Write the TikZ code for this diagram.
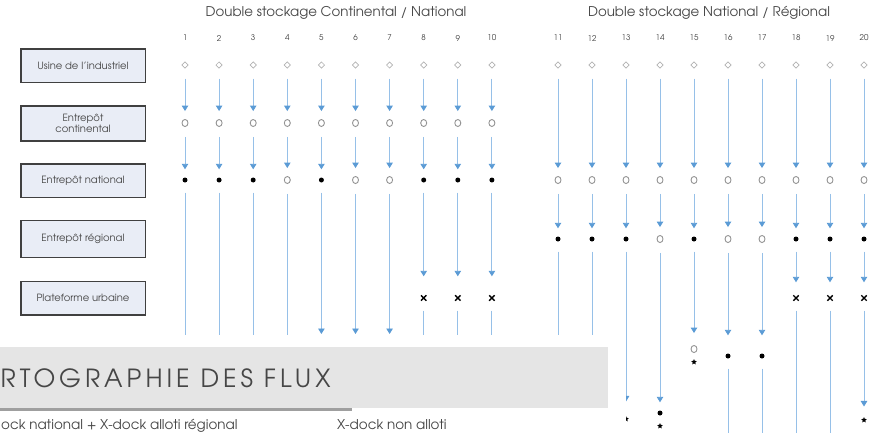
\documentclass[tikz,border=0pt]{standalone}
\usepackage{fontspec}
\setmainfont{TeX Gyre Adventor}
\usetikzlibrary{arrows.meta,shapes.geometric,shapes.misc}
\definecolor{flowblue}{RGB}{91,155,213}
\definecolor{linkblue}{RGB}{150,192,232}
\definecolor{boxfill}{RGB}{233,237,246}
\definecolor{boxline}{RGB}{64,64,64}
\definecolor{txtgray}{RGB}{70,70,70}
\definecolor{bannergray}{RGB}{229,229,229}

\begin{document}
\begin{tikzpicture}[x=1pt,y=-1pt,line width=0.4pt,
  lvl/.style={draw=boxline,line width=1.5pt,fill=boxfill,align=center,
              minimum width=124.5pt,minimum height=33.5pt,inner sep=1pt,
              text=txtgray,font=\fontsize{10}{11.5}\selectfont},
  num/.style={text=txtgray,font=\fontsize{8}{9}\selectfont},
  head/.style={text=txtgray,font=\fontsize{13.4}{15}\selectfont},
  usine/.style={diamond,draw=gray!60,line width=0.7pt,minimum size=6.5pt,inner sep=0pt},
  stockopen/.style={ellipse,draw=gray!85,line width=0.9pt,minimum width=6pt,
                    minimum height=7pt,inner sep=0pt},
  stockfull/.style={circle,fill=black,minimum size=5pt,inner sep=0pt},
  xdock/.style={cross out,draw=black,line width=1.4pt,minimum size=4pt,inner sep=0pt},
  client/.style={star,star points=5,star point ratio=2.2,fill=black,
                 minimum size=6pt,inner sep=0pt},
  link/.style={draw=linkblue,line width=0.9pt,shorten <=10pt},
  flow/.style={link,-{Triangle[width=6.5pt,length=5.5pt,color=flowblue]},shorten >=8pt},
  bandeau/.style={text=txtgray,inner sep=0pt,
                  font=\fontsize{25}{28}\selectfont\addfontfeature{LetterSpace=16}},
  legende/.style={text=txtgray,inner sep=0pt,font=\fontsize{13.5}{15}\selectfont}]
  \useasboundingbox (0,0) rectangle (875,432);
  \clip (0,0) rectangle (875,432);

  % niveaux
  \node[lvl] (usine) at (83,65.5) {Usine de l’industriel};
  \node[lvl,minimum height=35pt] (cont) at (83,123.5) {Entrepôt\\continental};
  \node[lvl] (nat) at (83,180.5) {Entrepôt national};
  \node[lvl,minimum height=37pt] (reg) at (83,239) {Entrepôt régional};
  \node[lvl] (urb) at (83,298) {Plateforme urbaine};

  \node[head] (t1) at (336,13) {Double stockage Continental / National};
  \node[head] (t2) at (709,13) {Double stockage National / Régional};

  % double stockage continental / national
  \foreach \i/\n in {1/stockfull,2/stockfull,3/stockfull,4/stockopen,5/stockfull,
                     6/stockopen,7/stockopen,8/stockfull,9/stockfull,10/stockfull}{
    \pgfmathsetmacro\cx{185+34.1*(\i-1)}
    \node[num] (k\i) at (\cx,38) {\i};
    \node[usine] (u\i) at (\cx,65) {};
    \node[stockopen] (c\i) at (\cx,123) {};
    \node[\n] (n\i) at (\cx,180) {};
    \coordinate (e\i) at (\cx,335);
    \draw[flow] (u\i) -- (c\i);
    \draw[flow] (c\i) -- (n\i);
  }
  \foreach \i in {1,...,4} \draw[link] (n\i) -- (e\i);
  \foreach \i in {5,6,7} \draw[flow,shorten >=1pt] (n\i) -- (e\i);
  \foreach \i in {8,9,10}{
    \node[xdock] (p\i) at (185+34.1*\i-34.1,298) {};
    \draw[flow,shorten >=19pt] (n\i) -- (p\i);
    \draw[link] (p\i) -- (e\i);
  }

  % double stockage national / regional
  \foreach \i/\r in {11/stockfull,12/stockfull,13/stockfull,14/stockopen,15/stockfull,
                     16/stockopen,17/stockopen,18/stockfull,19/stockfull,20/stockfull}{
    \pgfmathsetmacro\cx{558+34*(\i-11)}
    \node[num] (k\i) at (\cx,38) {\i};
    \node[usine] (u\i) at (\cx,65) {};
    \node[stockopen] (n\i) at (\cx,180) {};
    \node[\r] (r\i) at (\cx,239) {};
    \coordinate (e\i) at (\cx,335);
    \coordinate (b\i) at (\cx,440);
    \draw[flow] (u\i) -- (n\i);
    \draw[flow] (n\i) -- (r\i);
  }
  \draw[link] (r11) -- (e11);
  \draw[link] (r12) -- (e12);
  \node[client] (s13) at (626,419) {};
  \draw[flow,shorten >=14pt] (r13) -- (s13);
  \node[stockfull] (d14) at (660,413) {};
  \node[client] (s14) at (660,426) {};
  \draw[flow] (r14) -- (d14);
  \node[stockopen] (d15) at (694,349) {};
  \node[client] (s15) at (694,362) {};
  \draw[flow,shorten >=12pt] (r15) -- (d15);
  \foreach \i in {16,17}{
    \node[stockfull] (d\i) at (558+34*\i-374,356) {};
    \draw[flow,shorten >=18pt] (r\i) -- (d\i);
    \draw[link] (d\i) -- (b\i);
  }
  \foreach \i in {18,19,20}{
    \node[xdock] (p\i) at (558+34*\i-374,298) {};
    \draw[flow,shorten >=13pt] (r\i) -- (p\i);
  }
  \draw[link] (p18) -- (b18);
  \draw[link] (p19) -- (b19);
  \node[client] (s20) at (864,420) {};
  \draw[flow,shorten >=10pt] (p20) -- (s20);

  % diapositive par-dessus
  \fill[white] (0,335) rectangle (626,440);
  \fill[bannergray] (0,347) rectangle (608,408);
  \fill[gray!75] (0,407.5) rectangle (352,410.5);
  \node[bandeau,anchor=west] (titre) at (0.5,378) {RTOGRAPHIE DES FLUX};
  \node[legende,anchor=base west] (leg1) at (1,429) {ock national + X-dock alloti régional};
  \node[legende,anchor=base west] (leg2) at (337,429) {X-dock non alloti};
\end{tikzpicture}
\end{document}
